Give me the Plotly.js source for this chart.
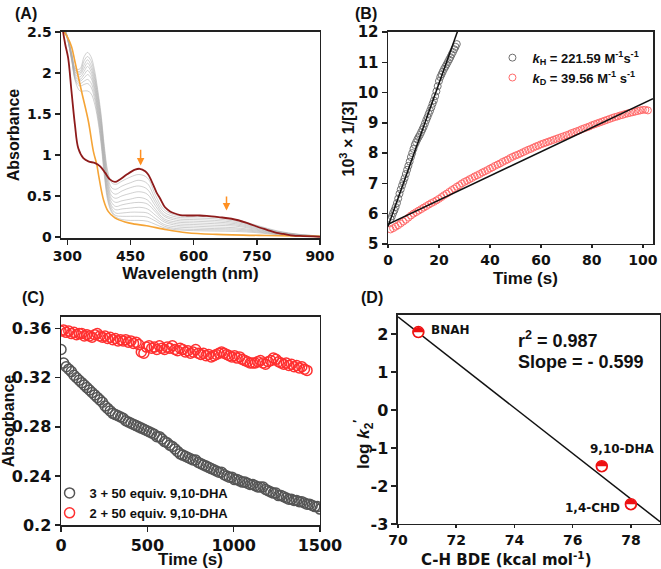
<!DOCTYPE html>
<html>
<head>
<meta charset="utf-8">
<script src="https://cdn.plot.ly/plotly-3.0.1.min.js"></script>
<style>html,body{margin:0;padding:0;background:#fff;}#chart{width:661px;height:569px;}</style>
</head>
<body>
<div id="chart"></div>
<script>
// ---------- Panel A : UV-vis spectra ----------
const redWl  = [285, 290, 295, 302, 310, 318, 326, 338, 350, 366, 378, 390, 401, 413, 425, 441, 461, 472, 485, 492, 500, 512, 520, 532, 544, 552, 568, 584, 615, 631, 659, 690, 726, 758, 774, 797, 813, 837, 853, 900];
const redAbs = [2.75, 2.50, 2.35, 2.18, 1.77, 1.37, 1.08, 0.96, 0.92, 0.90, 0.86, 0.78, 0.70, 0.67, 0.70, 0.76, 0.82, 0.83, 0.80, 0.76, 0.68, 0.54, 0.47, 0.36, 0.31, 0.29, 0.265, 0.26, 0.26, 0.255, 0.24, 0.22, 0.17, 0.11, 0.085, 0.047, 0.035, 0.015, 0.01, 0.0];
const orangeWl  = [286, 294, 300, 310, 318, 334, 350, 362, 370, 374, 386, 397, 413, 437, 460, 488, 536, 584, 654, 773, 900];
const orangeAbs = [2.62, 2.49, 2.44, 2.32, 2.14, 1.77, 1.41, 1.04, 0.88, 0.76, 0.45, 0.31, 0.23, 0.18, 0.155, 0.135, 0.085, 0.05, 0.03, 0.015, 0.005];
const grayWl = [288, 300, 310, 320, 330, 340, 348, 356, 364, 372, 380, 388, 396, 405, 415, 430, 450, 470, 490, 510, 530, 560, 600, 650, 700, 750, 800, 850, 900];
const gray1  = [2.6, 2.45, 2.25, 2.05, 2.05, 2.20, 2.25, 2.20, 2.05, 1.80, 1.50, 1.10, 0.80, 0.66, 0.64, 0.68, 0.73, 0.76, 0.72, 0.50, 0.33, 0.26, 0.25, 0.24, 0.21, 0.14, 0.07, 0.03, 0.01];
const gray2  = [2.6, 2.45, 2.24, 2.03, 2.02, 2.15, 2.20, 2.15, 2.00, 1.76, 1.46, 1.06, 0.75, 0.60, 0.58, 0.62, 0.66, 0.69, 0.65, 0.45, 0.30, 0.24, 0.23, 0.22, 0.19, 0.13, 0.065, 0.028, 0.01];
const gray3  = [2.6, 2.45, 2.23, 2.02, 2.00, 2.10, 2.16, 2.10, 1.96, 1.72, 1.42, 1.02, 0.70, 0.55, 0.52, 0.56, 0.60, 0.62, 0.58, 0.41, 0.27, 0.22, 0.21, 0.20, 0.175, 0.12, 0.06, 0.026, 0.01];
const gray4  = [2.6, 2.44, 2.22, 2.00, 1.98, 2.06, 2.12, 2.06, 1.92, 1.68, 1.38, 0.98, 0.66, 0.50, 0.47, 0.50, 0.53, 0.55, 0.52, 0.37, 0.25, 0.20, 0.19, 0.18, 0.16, 0.11, 0.055, 0.024, 0.01];
const gray5  = [2.6, 2.44, 2.21, 1.98, 1.95, 2.02, 2.08, 2.02, 1.88, 1.64, 1.34, 0.94, 0.62, 0.46, 0.42, 0.44, 0.46, 0.48, 0.45, 0.33, 0.22, 0.18, 0.17, 0.16, 0.145, 0.10, 0.05, 0.022, 0.01];
const gray6  = [2.6, 2.43, 2.20, 1.96, 1.92, 1.98, 2.03, 1.98, 1.84, 1.60, 1.30, 0.90, 0.58, 0.42, 0.37, 0.39, 0.41, 0.42, 0.40, 0.30, 0.20, 0.16, 0.15, 0.14, 0.13, 0.09, 0.045, 0.02, 0.008];
const gray7  = [2.6, 2.43, 2.19, 1.94, 1.90, 1.94, 1.98, 1.94, 1.80, 1.56, 1.26, 0.86, 0.54, 0.38, 0.33, 0.34, 0.35, 0.36, 0.34, 0.26, 0.18, 0.14, 0.13, 0.12, 0.11, 0.08, 0.04, 0.018, 0.008];
const gray8  = [2.6, 2.42, 2.18, 1.92, 1.87, 1.90, 1.92, 1.88, 1.75, 1.52, 1.22, 0.82, 0.50, 0.35, 0.29, 0.29, 0.30, 0.30, 0.29, 0.22, 0.15, 0.12, 0.11, 0.10, 0.095, 0.07, 0.035, 0.016, 0.007];
const gray9  = [2.6, 2.42, 2.17, 1.90, 1.84, 1.86, 1.87, 1.83, 1.70, 1.48, 1.18, 0.78, 0.47, 0.32, 0.26, 0.25, 0.25, 0.25, 0.24, 0.19, 0.13, 0.10, 0.09, 0.085, 0.08, 0.06, 0.03, 0.014, 0.006];
const gray10 = [2.6, 2.42, 2.16, 1.88, 1.78, 1.78, 1.78, 1.75, 1.64, 1.44, 1.14, 0.74, 0.44, 0.30, 0.24, 0.21, 0.20, 0.20, 0.19, 0.15, 0.11, 0.085, 0.075, 0.07, 0.065, 0.05, 0.025, 0.012, 0.005];
const graySet = [gray1, gray2, gray3, gray4, gray5, gray6, gray7, gray8, gray9, gray10];
const arrowWl = [474, 678];
const arrowTip = [0.87, 0.32];
const arrowTail = [1.08, 0.51];

// ---------- Panel B : second-order kinetics ----------
const kHStart = 1.0, kHStep = 0.5;
const kHVals = [5.82, 5.91, 6.02, 6.11, 6.22, 6.35, 6.50, 6.66, 6.80, 6.93, 7.05, 7.17, 7.31, 7.45, 7.58, 7.72, 7.87, 8.00, 8.14, 8.27, 8.36, 8.45, 8.53, 8.60, 8.69, 8.78, 8.87, 8.98, 9.09, 9.19, 9.30, 9.40, 9.51, 9.63, 9.74, 9.88, 10.04, 10.21, 10.38, 10.51, 10.60, 10.69, 10.78, 10.85, 10.93, 11.01, 11.09, 11.17, 11.26, 11.34, 11.43, 11.51, 11.60];
const kDStart = 1.0, kDStep = 1.0;
const kDVals = [5.48, 5.52, 5.57, 5.62, 5.68, 5.74, 5.80, 5.87, 5.94, 6.00, 6.05, 6.10, 6.15, 6.20, 6.25, 6.30, 6.35, 6.39, 6.44, 6.49, 6.55, 6.61, 6.66, 6.72, 6.78, 6.83, 6.89, 6.94, 7.00, 7.05, 7.09, 7.14, 7.18, 7.23, 7.27, 7.31, 7.36, 7.40, 7.44, 7.49, 7.53, 7.58, 7.62, 7.66, 7.71, 7.75, 7.79, 7.84, 7.88, 7.92, 7.95, 7.99, 8.03, 8.07, 8.11, 8.14, 8.18, 8.22, 8.25, 8.29, 8.32, 8.35, 8.38, 8.41, 8.44, 8.47, 8.50, 8.53, 8.56, 8.59, 8.62, 8.66, 8.69, 8.72, 8.75, 8.79, 8.82, 8.85, 8.88, 8.92, 8.95, 8.98, 9.01, 9.04, 9.07, 9.10, 9.13, 9.16, 9.19, 9.21, 9.24, 9.26, 9.29, 9.31, 9.33, 9.35, 9.37, 9.39, 9.41, 9.43, 9.43, 9.41];
const fitHT = [0, 28], fitHV = [5.58, 12.19];
const fitDT = [0, 104], fitDV = [5.65, 9.80];
const legendH = '<i>k</i><sub>H</sub> = 221.59 M<sup>-1</sup>s<sup>-1</sup>';
const legendD = '<i>k</i><sub>D</sub> = 39.56 M<sup>-1</sup> s<sup>-1</sup>';

// ---------- Panel C : decay at fixed wavelength ----------
const cStep = 15;
const cGray = [0.343, 0.332, 0.329, 0.327, 0.325, 0.322, 0.320, 0.318, 0.316, 0.314, 0.312, 0.310, 0.308, 0.306, 0.304, 0.302, 0.300, 0.297, 0.295, 0.293, 0.291, 0.290, 0.289, 0.288, 0.287, 0.285, 0.284, 0.283, 0.282, 0.281, 0.280, 0.279, 0.278, 0.277, 0.276, 0.275, 0.274, 0.272, 0.272, 0.270, 0.268, 0.267, 0.265, 0.264, 0.262, 0.260, 0.258, 0.257, 0.256, 0.255, 0.254, 0.253, 0.253, 0.251, 0.250, 0.249, 0.248, 0.247, 0.246, 0.245, 0.244, 0.243, 0.243, 0.241, 0.240, 0.239, 0.239, 0.237, 0.237, 0.236, 0.235, 0.235, 0.234, 0.233, 0.233, 0.232, 0.231, 0.231, 0.231, 0.229, 0.228, 0.227, 0.226, 0.226, 0.224, 0.224, 0.223, 0.222, 0.221, 0.221, 0.220, 0.220, 0.219, 0.219, 0.218, 0.217, 0.217, 0.216, 0.215, 0.215, 0.213];
const cRed = [0.358, 0.359, 0.357, 0.358, 0.356, 0.357, 0.355, 0.356, 0.356, 0.354, 0.355, 0.354, 0.353, 0.355, 0.356, 0.354, 0.353, 0.354, 0.352, 0.353, 0.351, 0.352, 0.350, 0.351, 0.350, 0.351, 0.349, 0.350, 0.348, 0.349, 0.347, 0.341, 0.340, 0.345, 0.346, 0.344, 0.345, 0.343, 0.346, 0.344, 0.343, 0.345, 0.344, 0.346, 0.343, 0.342, 0.344, 0.343, 0.341, 0.342, 0.340, 0.341, 0.343, 0.340, 0.339, 0.340, 0.338, 0.339, 0.337, 0.338, 0.339, 0.340, 0.341, 0.340, 0.339, 0.338, 0.337, 0.338, 0.336, 0.337, 0.335, 0.334, 0.333, 0.332, 0.332, 0.332, 0.333, 0.334, 0.332, 0.331, 0.333, 0.334, 0.336, 0.335, 0.333, 0.332, 0.331, 0.332, 0.330, 0.331, 0.329, 0.330, 0.328, 0.329, 0.327, 0.326];
const cNames = ['3 + 50 equiv. 9,10-DHA', '2 + 50 equiv. 9,10-DHA'];

// ---------- Panel D : BDE correlation ----------
const bde = [70.7, 77.0, 78.0];
const logK = [2.05, -1.48, -2.48];
const substrates = ['BNAH', '9,10-DHA', '1,4-CHD'];
const labelX = [71.81, 77.72, 76.67];
const labelY = [2.11, -1.02, -2.58];
const fitBdeX = [70, 79], fitBdeY = [2.45, -2.94];

// ---------- styling ----------
const BOLD_TICK = (s) => ({family: 'DejaVu Sans', size: s, color: '#111', weight: 'bold'});
const TITLE_F = (s) => ({family: 'Liberation Sans, Arial', size: s, color: '#111', weight: 'bold'});
const annFont = (s) => ({family: 'DejaVu Sans', size: s, color: '#111', weight: 'bold'});
const axisStyle = {showline: true, mirror: true, linecolor: '#222', linewidth: 1.5, ticks: 'outside', ticklen: 5, tickwidth: 1.5, tickcolor: '#222', showgrid: false, zeroline: false, automargin: false};

const traces = [];
graySet.forEach((g) => traces.push({x: grayWl, y: g, xaxis: 'x', yaxis: 'y', mode: 'lines', line: {color: 'rgba(170,170,170,0.55)', width: 1, shape: 'spline'}, showlegend: false, hoverinfo: 'skip'}));
traces.push({x: orangeWl, y: orangeAbs, xaxis: 'x', yaxis: 'y', mode: 'lines', line: {color: '#f5a436', width: 1.6, shape: 'spline'}, showlegend: false});
traces.push({x: redWl, y: redAbs, xaxis: 'x', yaxis: 'y', mode: 'lines', line: {color: '#8e1b1b', width: 1.8, shape: 'spline'}, showlegend: false});

traces.push({y: kHVals, x0: kHStart, dx: kHStep, xaxis: 'x2', yaxis: 'y2', mode: 'markers', name: legendH, legend: 'legend', marker: {symbol: 'circle-open', size: 7, color: '#707070', line: {width: 1}}});
traces.push({y: kDVals, x0: kDStart, dx: kDStep, xaxis: 'x2', yaxis: 'y2', mode: 'markers', name: legendD, legend: 'legend', marker: {symbol: 'circle-open', size: 7, color: '#ff6a6a', line: {width: 1}}});
traces.push({x: fitHT, y: fitHV, xaxis: 'x2', yaxis: 'y2', mode: 'lines', line: {color: '#111', width: 1.5}, showlegend: false});
traces.push({x: fitDT, y: fitDV, xaxis: 'x2', yaxis: 'y2', mode: 'lines', line: {color: '#111', width: 1.5}, showlegend: false});

traces.push({y: cGray, x0: 0, dx: cStep, xaxis: 'x3', yaxis: 'y3', mode: 'markers', name: cNames[0], legend: 'legend2', marker: {symbol: 'circle-open', size: 10, color: '#555555', line: {width: 1.5}}});
traces.push({y: cRed, x0: 0, dx: cStep, xaxis: 'x3', yaxis: 'y3', mode: 'markers', name: cNames[1], legend: 'legend2', marker: {symbol: 'circle-open', size: 10, color: '#ff3030', line: {width: 1.5}}});

traces.push({x: fitBdeX, y: fitBdeY, xaxis: 'x4', yaxis: 'y4', mode: 'lines', line: {color: '#111', width: 1.5}, showlegend: false});
// half-filled circle markers (upper half red, lower half white)
traces.push({x: bde, y: logK, xaxis: 'x4', yaxis: 'y4', mode: 'markers', showlegend: false, marker: {symbol: 'circle', size: 11, color: '#ffffff', line: {color: '#ee1111', width: 1.5}}});
traces.push({x: bde, y: logK, xaxis: 'x4', yaxis: 'y4', mode: 'text', text: bde.map(() => '\u25d3'), textposition: 'middle center', showlegend: false, textfont: {family: 'DejaVu Sans', size: 14, color: '#ee1111'}});

const annotations = [
  {xref: 'paper', yref: 'paper', x: 0.0393, y: 0.9754, xanchor: 'center', yanchor: 'middle', text: '(A)', showarrow: false, font: TITLE_F(16)},
  {xref: 'paper', yref: 'paper', x: 0.5537, y: 0.9754, xanchor: 'center', yanchor: 'middle', text: '(B)', showarrow: false, font: TITLE_F(16)},
  {xref: 'paper', yref: 'paper', x: 0.0499, y: 0.478, xanchor: 'center', yanchor: 'middle', text: '(C)', showarrow: false, font: TITLE_F(16)},
  {xref: 'paper', yref: 'paper', x: 0.5628, y: 0.478, xanchor: 'center', yanchor: 'middle', text: '(D)', showarrow: false, font: TITLE_F(16)},
  {xref: 'paper', yref: 'paper', x: 525/661, y: 1 - 278/569, xanchor: 'center', yanchor: 'middle', text: 'Time (s)', showarrow: false, font: TITLE_F(17)},
  {xref: 'paper', yref: 'paper', x: 348/661, y: 1 - 139.5/569, xanchor: 'center', yanchor: 'middle', text: '10<sup>3</sup> \u00d7 1/[3]', textangle: -90, showarrow: false, font: TITLE_F(16)},
  {xref: 'paper', yref: 'paper', x: 506/661, y: 1 - 559/569, xanchor: 'center', yanchor: 'middle', text: 'C-H BDE (kcal mol<sup>-1</sup>)', showarrow: false, font: annFont(15)},
  {xref: 'x4', yref: 'y4', x: 74.07, y: 1.85, xanchor: 'left', yanchor: 'middle', text: 'r<sup>2</sup> = 0.987', showarrow: false, font: TITLE_F(18)},
  {xref: 'x4', yref: 'y4', x: 74.07, y: 1.275, xanchor: 'left', yanchor: 'middle', text: 'Slope = - 0.599', showarrow: false, font: TITLE_F(18)},
  {xref: 'paper', yref: 'paper', x: 363/661, y: 1 - 445/569, xanchor: 'center', yanchor: 'middle', text: 'log <i>k</i><sub>2</sub><sup>\u2032</sup>', textangle: -90, showarrow: false, font: TITLE_F(17)}
];
for (let i = 0; i < arrowWl.length; i++) {
  annotations.push({xref: 'x', yref: 'y', axref: 'x', ayref: 'y', x: arrowWl[i], y: arrowTip[i], ax: arrowWl[i], ay: arrowTail[i], text: '', showarrow: true, arrowhead: 2, arrowsize: 1, arrowwidth: 1.5, arrowcolor: '#ff9022'});
}
for (let i = 0; i < substrates.length; i++) {
  annotations.push({xref: 'x4', yref: 'y4', x: labelX[i], y: labelY[i], xanchor: 'center', yanchor: 'middle', text: substrates[i], showarrow: false, font: annFont(12)});
}

const layout = {
  width: 661, height: 569, margin: {l: 0, r: 0, t: 0, b: 0},
  paper_bgcolor: '#ffffff', plot_bgcolor: '#ffffff',
  font: {family: 'Liberation Sans, Arial, sans-serif', color: '#111'},
  showlegend: true,
  xaxis: Object.assign({}, axisStyle, {domain: [0.0923, 0.4841], anchor: 'y', range: [285, 900], tickvals: [300, 450, 600, 750, 900], tickfont: BOLD_TICK(14), title: {text: 'Wavelength (nm)', font: TITLE_F(17), standoff: 4}}),
  yaxis: Object.assign({}, axisStyle, {domain: [0.5817, 0.9438], anchor: 'x', range: [-0.015, 2.5], dtick: 0.5, tick0: 0, tickfont: BOLD_TICK(14), title: {text: 'Absorbance', font: TITLE_F(16), standoff: 3}}),
  xaxis2: Object.assign({}, axisStyle, {domain: [0.5870, 0.9879], anchor: 'y2', range: [0, 104], dtick: 20, tick0: 0, ticklen: 3, tickfont: BOLD_TICK(14)}),
  yaxis2: Object.assign({}, axisStyle, {domain: [0.5712, 0.9438], anchor: 'x2', range: [5, 12], dtick: 1, tick0: 5, tickfont: BOLD_TICK(15)}),
  xaxis3: Object.assign({}, axisStyle, {domain: [0.0923, 0.4841], anchor: 'y3', range: [0, 1500], dtick: 500, tick0: 0, tickfont: BOLD_TICK(16), title: {text: 'Time (s)', font: TITLE_F(17), standoff: 0}}),
  yaxis3: Object.assign({}, axisStyle, {domain: [0.0773, 0.4429], anchor: 'x3', range: [0.2, 0.3695], dtick: 0.04, tick0: 0.2, tickfont: BOLD_TICK(16), title: {text: 'Absorbance', font: TITLE_F(16), standoff: 2}}),
  xaxis4: Object.assign({}, axisStyle, {domain: [0.6021, 0.9985], anchor: 'y4', range: [70, 79], dtick: 2, tick0: 70, ticklen: 3, tickfont: BOLD_TICK(14)}),
  yaxis4: Object.assign({}, axisStyle, {domain: [0.0791, 0.4464], anchor: 'x4', range: [-3, 2.5], tickmode: 'array', tickvals: [-3, -2, -1, 0, 1, 2], ticktext: ['-3', '-2', '-1', '0', '1', '2'], tickfont: BOLD_TICK(16)}),
  legend: {x: 0.745, y: 0.925, xanchor: 'left', yanchor: 'top', bgcolor: 'rgba(0,0,0,0)', font: TITLE_F(13), tracegroupgap: 0, itemwidth: 30},
  legend2: {x: 0.075, y: 0.16, xanchor: 'left', yanchor: 'top', bgcolor: 'rgba(0,0,0,0)', font: TITLE_F(13), tracegroupgap: 0, itemwidth: 30},
  annotations: annotations
};

Plotly.newPlot('chart', traces, layout, {displayModeBar: false, staticPlot: true});
</script>
</body>
</html>
